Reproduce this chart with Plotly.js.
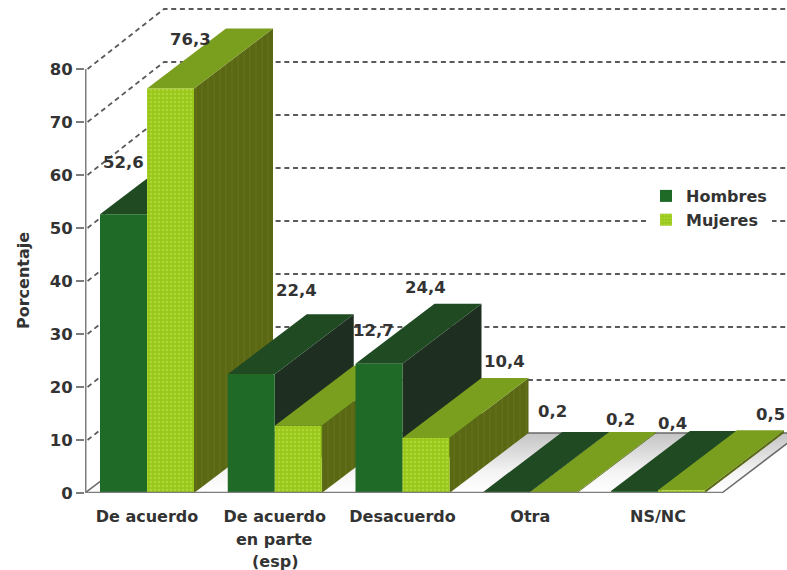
<!DOCTYPE html>
<html><head><meta charset="utf-8">
<script src="https://cdn.plot.ly/plotly-3.0.1.min.js"></script>
<style>html,body{margin:0;padding:0;background:#fff}#c{width:787px;height:570px}</style>
</head><body><div id="c"></div>
<script>
const categories = ["De acuerdo","De acuerdo","Desacuerdo","Otra","NS/NC"];
const hombres = [52.6,22.4,24.4,0.2,0.4];
const mujeres = [76.3,12.7,10.4,0.2,0.5];
const gridValues = [10,20,30,40,50,60,70,80];
const extraLabelLines = ["en parte","(esp)"];
const hombresLabelShift = [[0,-52],[45,-84],[46,-76],[46,-80],[38,-67]];
const mujeresLabelShift = [[20,-49],[75,-95],[78,-76],[67,-72],[89,-76]];

// scale: one category = 127.75 px, ten units = 53 px
const barW = 47/127.75, depthX = 79/127.75, depthY = 60/5.3;
const xMin = -62/127.75, xMax = 640/127.75, yMax = 493/5.3, floorEnd = 4.5;
const font = "DejaVu Sans, Verdana, sans-serif";
const ink = "#333333";
const base = {xaxis:"x",yaxis:"y",showlegend:false,hoverinfo:"skip"};
const traces = [];

// floor
traces.push({...base,type:"scatter",mode:"lines",
  x:[xMin,floorEnd,floorEnd+depthX,xMin+depthX,xMin],
  y:[0,0,depthY,depthY,0],fill:"toself",
  fillgradient:{type:"vertical",colorscale:[[0,"#ffffff"],[0.35,"#f4f4f4"],[1,"#c4c4c4"]]},
  line:{color:"#6a6a6a",width:1.5}});

// grid lines: left wall diagonal and back wall
gridValues.forEach(v=>traces.push({...base,type:"scatter",mode:"lines",
  x:[xMin+0.02,xMin+depthX,xMax],y:[v,v+depthY,v+depthY],
  line:{color:"#5a5a5a",width:1.8,dash:"5px,3.7px"}}));

// depth faces
function depth(x0,x1,v,sideColor,topColor,sideFg){
  traces.push({...base,type:"scatter",mode:"none",fill:"toself",fillcolor:sideColor,
    x:[x1,x1+depthX,x1+depthX,x1,x1],y:[0,depthY,v+depthY,v,0],
    fillpattern:sideFg?{shape:"|",size:6,solidity:0.25,fgcolor:sideFg,bgcolor:sideColor}:undefined});
  traces.push({...base,type:"scatter",mode:"none",fill:"toself",fillcolor:topColor,
    x:[x0,x1,x1+depthX,x0+depthX,x0],y:[v,v,v+depthY,v+depthY,v]});
}
categories.forEach((c,i)=>{
  depth(i-barW,i,hombres[i],"#1e2e20","#1f4a22",null);
  depth(i,i+barW,mujeres[i],"#5a6814","#7a9e1e","#626f1a");
});

// front faces
const idx = categories.map((c,i)=>i);
traces.push({type:"bar",name:"Hombres",legendgroup:"h",x:idx,y:hombres,xaxis:"x2",yaxis:"y2",
  marker:{color:"#1e6a26",line:{width:0}},hoverinfo:"y"});
traces.push({type:"bar",name:"Mujeres",legendgroup:"m",x:idx,y:mujeres,xaxis:"x2",yaxis:"y2",
  marker:{color:"#9ccb1a",line:{width:0},pattern:{shape:".",size:4,solidity:0.3,fgcolor:"#aed636",bgcolor:"#9ac81a"}},hoverinfo:"y"});

// axis lines
traces.push({xaxis:"x2",yaxis:"y2",showlegend:false,hoverinfo:"skip",type:"scatter",mode:"lines",cliponaxis:false,
  x:[xMin,xMin],y:[0,80],line:{color:"#7d7d7d",width:3}});
traces.push({xaxis:"x2",yaxis:"y2",showlegend:false,hoverinfo:"skip",type:"scatter",mode:"lines",cliponaxis:false,
  x:[xMin,floorEnd],y:[0,0],line:{color:"#7d7d7d",width:2.5}});

const annFont = {family:font,size:16.5,color:ink,weight:"bold"};
const annotations = [];
function lab(x,v,s){annotations.push({xref:"x2",yref:"y2",x:x,y:v,text:String(v).replace(".",","),
  showarrow:false,xshift:s[0],yshift:-s[1],font:annFont});}
categories.forEach((c,i)=>{
  lab(i-barW/2,hombres[i],hombresLabelShift[i]);
  lab(i+barW/2,mujeres[i],mujeresLabelShift[i]);
});
extraLabelLines.forEach((t,k)=>annotations.push({xref:"x2",yref:"y2",x:1,y:0,text:t,showarrow:false,
  yshift:-46-22.5*k,font:{family:font,size:16,color:ink,weight:"bold"}}));
annotations.push({xref:"paper",yref:"y",x:0,y:40,xanchor:"center",yanchor:"middle",xshift:-62,text:"Porcentaje",textangle:-90,showarrow:false,
  font:{family:font,size:16,color:ink,weight:"bold"}});

Plotly.newPlot("c",traces,{
  width:787,height:570,margin:{l:85,r:0,t:0,b:77,pad:0},
  paper_bgcolor:"#ffffff",plot_bgcolor:"#ffffff",
  barmode:"group",bargap:1-94/127.75,bargroupgap:0,
  separators:",.",
  xaxis:{range:[xMin,xMax],tickmode:"array",tickvals:idx,ticktext:categories,showgrid:false,zeroline:false,
    showline:false,ticks:"outside",ticklen:9,tickcolor:"rgba(0,0,0,0)",tickfont:{family:font,size:16,color:ink,weight:"bold"},automargin:false},
  yaxis:{range:[0,yMax],tickmode:"array",tickvals:[0].concat(gridValues),showgrid:false,zeroline:false,showline:false,
    ticks:"outside",ticklen:8,tickwidth:2,tickcolor:"#7d7d7d",tickfont:{family:font,size:16.5,color:ink,weight:"bold"},automargin:false},
  xaxis2:{range:[xMin,xMax],overlaying:"x",anchor:"y2",visible:false},
  yaxis2:{range:[0,yMax],overlaying:"y",anchor:"x2",visible:false},
  legend:{x:(646-85)/702,xanchor:"left",y:1-179/493,yanchor:"top",bgcolor:"#ffffff",borderwidth:0,traceorder:"normal",
    font:{family:font,size:16,color:ink,weight:"bold"},itemwidth:30,tracegroupgap:5},
  annotations:annotations
},{displayModeBar:false,staticPlot:true});
</script></body></html>
